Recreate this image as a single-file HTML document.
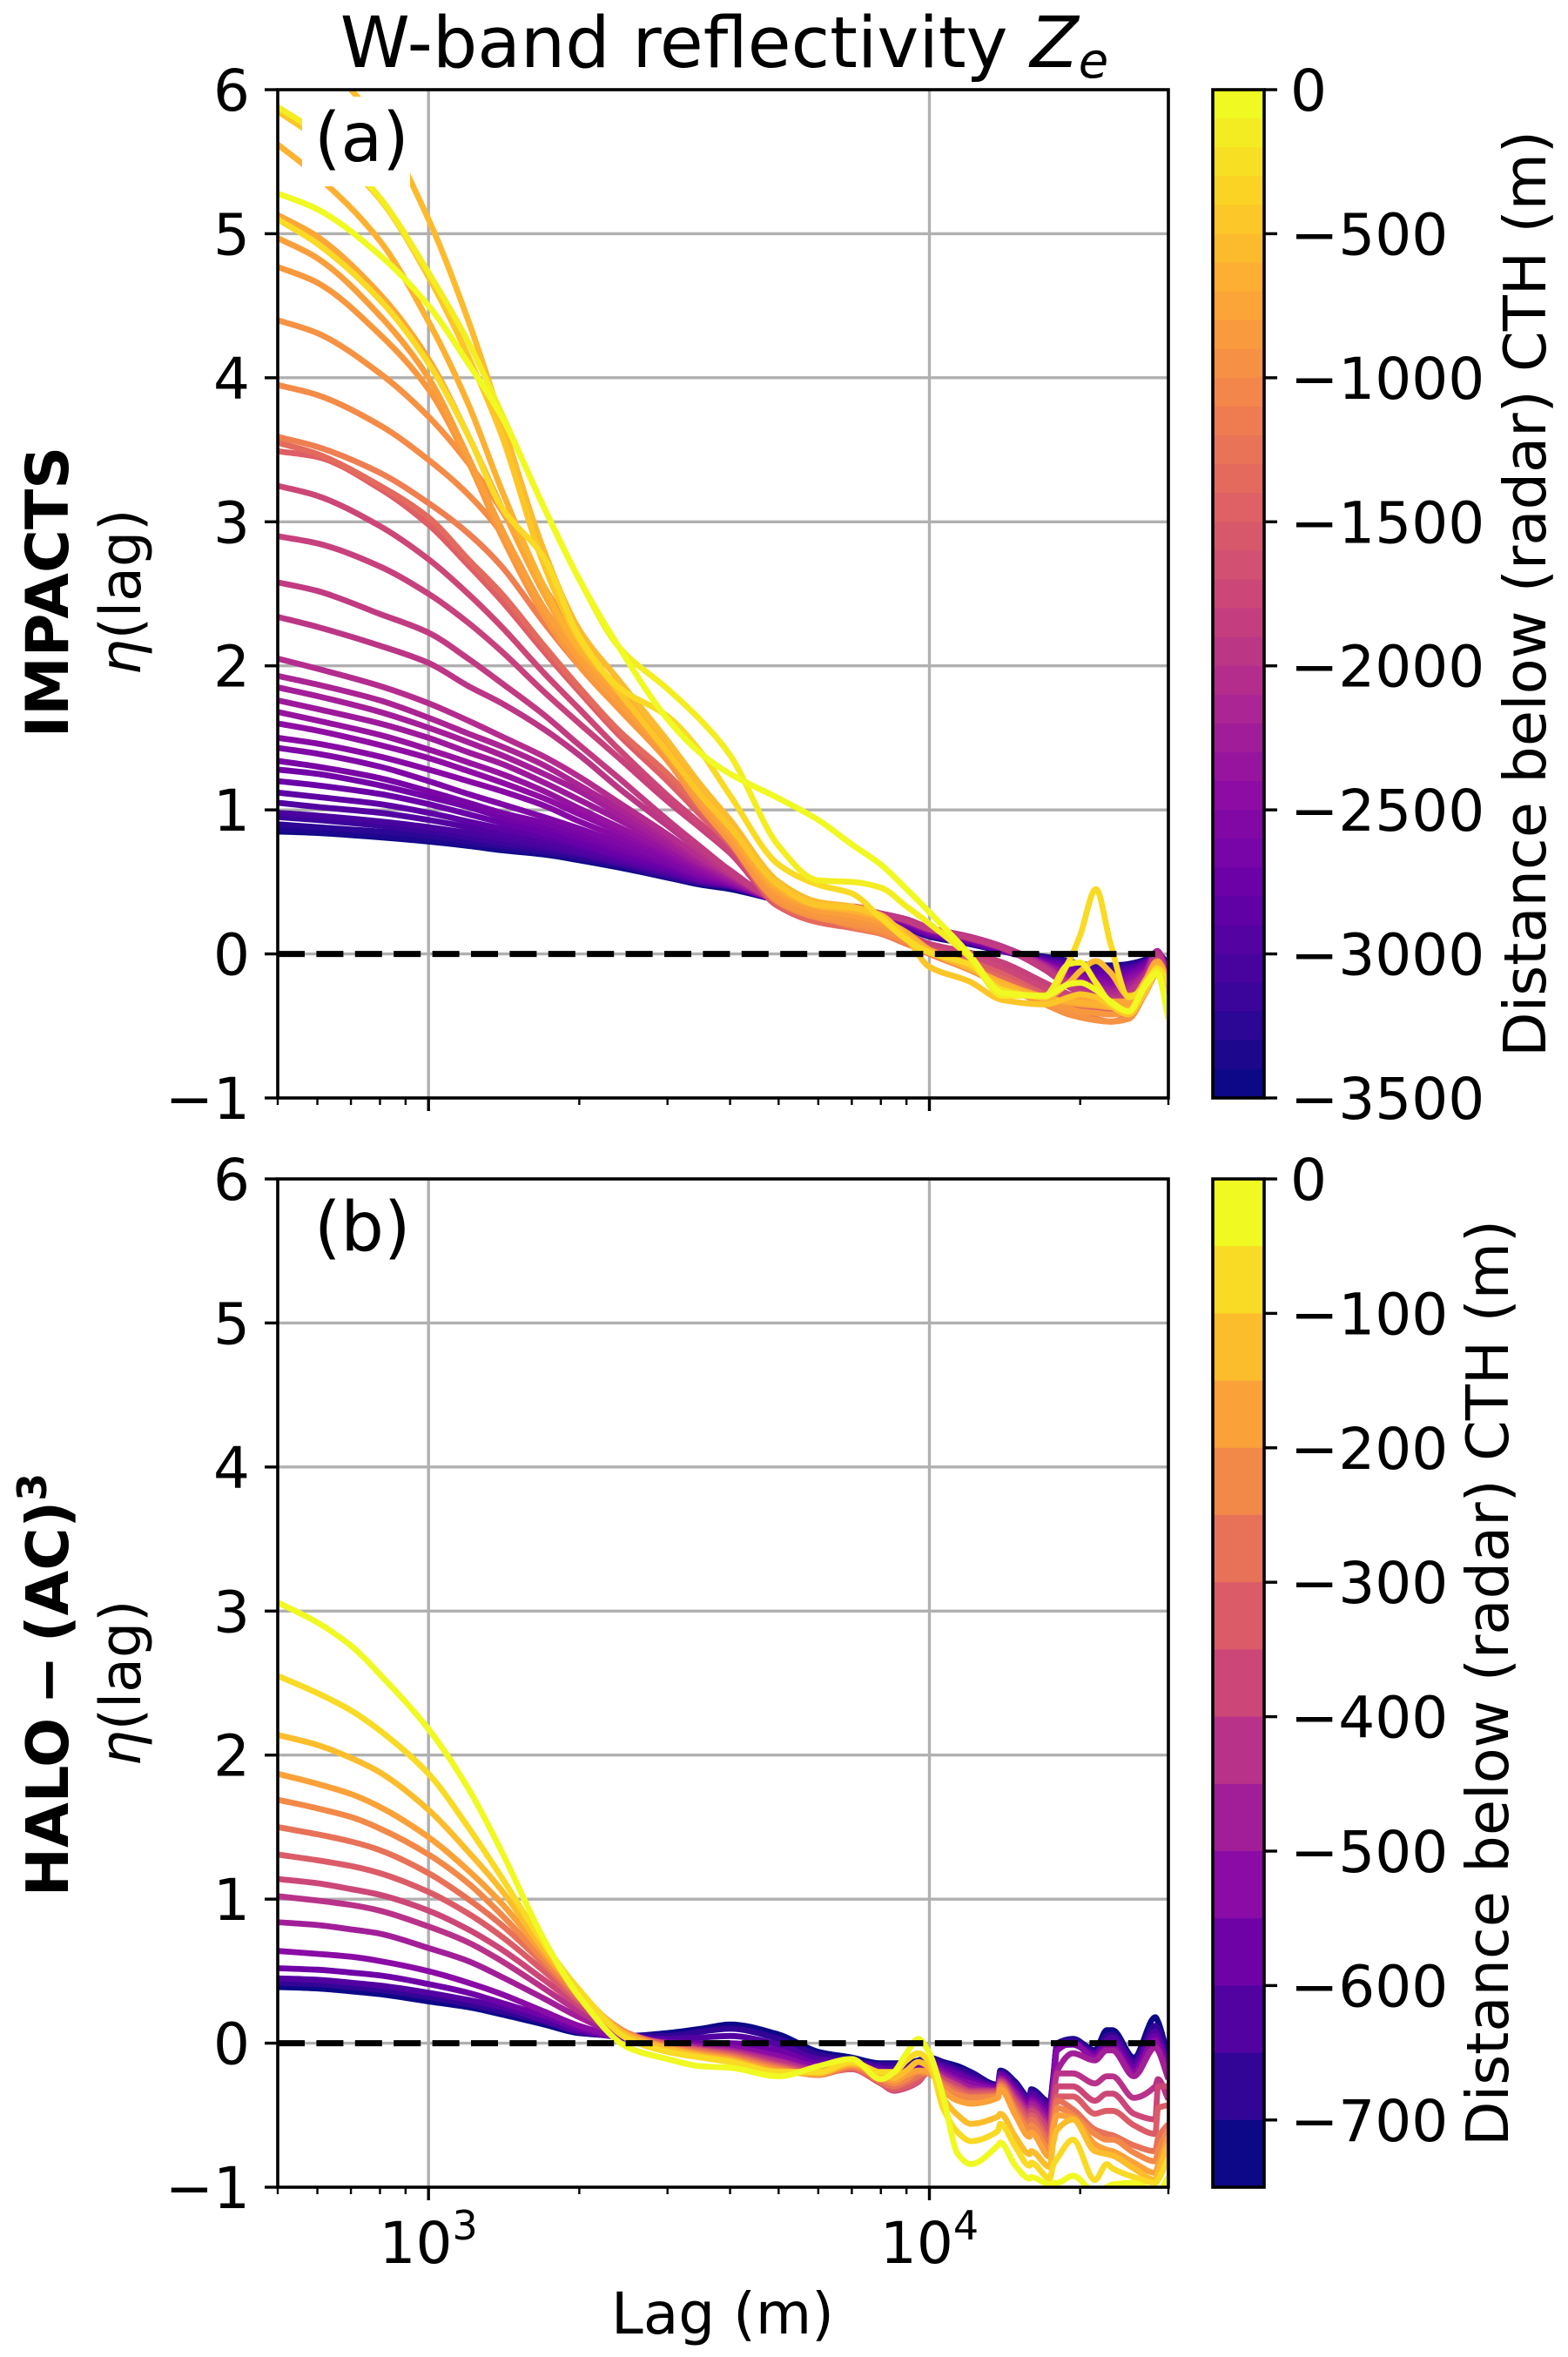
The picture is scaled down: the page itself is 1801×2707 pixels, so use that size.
<!DOCTYPE html>
<html lang="en">
<head>
<meta charset="utf-8">
<title>W-band reflectivity</title>
<style>
html,body{margin:0;padding:0;background:#fff;}
svg{display:block;}
text{font-family:"DejaVu Sans","Liberation Sans",sans-serif;fill:#000;}
</style>
</head>
<body>
<svg id="chart" xmlns="http://www.w3.org/2000/svg" width="1801" height="2707" viewBox="0 0 1801 2707">
<rect x="0" y="0" width="1801" height="2707" fill="#fff"/>
<defs>
<clipPath id="clip-a"><rect x="319" y="103" width="1023" height="1158"/></clipPath>
<clipPath id="clip-b"><rect x="319" y="1354" width="1023" height="1158"/></clipPath>
</defs>
<g id="layer-grid"></g>
<g id="layer-lines"></g>
<g id="layer-axes"></g>
<rect x="347" y="111" width="124" height="103" fill="#fff"/>
<text x="361" y="185" font-size="78">(a)</text>
<text x="361" y="1436" font-size="78">(b)</text>
<text x="832" y="77" font-size="81" text-anchor="middle">W-band reflectivity <tspan font-style="italic">Z</tspan><tspan font-size="56" font-style="italic" dy="12">e</tspan></text>
<text x="830" y="2680" font-size="66" text-anchor="middle">Lag (m)</text>
<text transform="translate(78,680) rotate(-90)" font-size="68" font-weight="bold" text-anchor="middle">IMPACTS</text>
<text transform="translate(161,680) rotate(-90)" font-size="65" text-anchor="middle"><tspan font-style="italic">η</tspan>(lag)</text>
<text transform="translate(78,1935) rotate(-90)" font-size="67" font-weight="bold" text-anchor="middle" word-spacing="-8">HALO − (AC)<tspan font-size="46" dy="-25">3</tspan></text>
<text transform="translate(161,1933) rotate(-90)" font-size="65" text-anchor="middle"><tspan font-style="italic">η</tspan>(lag)</text>
<text transform="translate(1775,682) rotate(-90)" font-size="67" text-anchor="middle">Distance below (radar) CTH (m)</text>
<text transform="translate(1732,1933) rotate(-90)" font-size="67" text-anchor="middle">Distance below (radar) CTH (m)</text>
</svg>
<script>
const yTickValues = [-1, 0, 1, 2, 3, 4, 5, 6];
const xMajorTicks = [1000, 10000];
const xMinorTicks = [500, 600, 700, 800, 900, 2000, 3000, 4000, 5000, 6000, 7000, 8000, 9000, 20000, 30000];
const xTickLabelExponents = [3, 4];
const colorbarTicksA = [0, -500, -1000, -1500, -2000, -2500, -3000, -3500];
const colorbarTicksB = [0, -100, -200, -300, -400, -500, -600, -700];
const plasmaStops = ['#0d0887', '#41049d', '#6a00a8', '#8f0da4', '#b12a90', '#cc4778', '#e16462', '#f2844b', '#fca636', '#fcce25', '#f0f921'];

const lagsA = [500,600,800,1000,1200,1400,1700,2000,2400,3000,3500,4000,5000,6000,7000,8000,9000,10000,12000,14000,17000,19000,20000,21500,23000,25000,27000,28500,30000];
const impactsDepths = [0,-100,-250,-420,-525,-600,-700,-770,-840,-910,-980,-1120,-1330,-1470,-1750,-1820,-1890,-1960,-2065,-2170,-2240,-2310,-2380,-2450,-2520,-2590,-2660,-2730,-2800,-2905,-3010,-3080,-3185,-3290,-3395,-3500];
/* one row per depth in impactsDepths */
const etaImpacts = [
[5.28,5.17,4.85,4.5,4.1,3.73,3.1,2.6,2.13,1.63,1.39,1.25,1.08,.93,.76,.62,.45,.29,0,-.27,-.29,-.21,-.2,-.25,-.33,-.4,-.22,-.14,-.43],
[5.88,5.7,5.25,4.73,4.25,3.75,3.1,2.6,2.13,1.84,1.62,1.38,.75,.51,.5,.46,.33,.21,-.02,-.29,-.29,-.07,-.06,-.2,-.34,-.4,-.2,-.12,-.45],
[5.1,4.93,4.54,4.1,3.6,3.1,2.75,2.2,1.85,1.65,1.4,1.1,.62,.48,.42,.25,.1,.01,-.07,-.25,-.3,-.05,.13,.45,.07,-.3,-.22,-.1,-.2],
[5.85,5.66,5.24,4.7,4.15,3.6,2.7,2.18,1.82,1.4,1.1,.88,.48,.34,.32,.26,.11,-.09,-.19,-.32,-.35,-.3,-.28,-.3,-.36,-.42,-.26,-.12,-.25],
[6.55,6.25,5.75,5.1,4.4,3.7,2.8,2.25,1.9,1.48,1.17,.93,.5,.36,.33,.27,.12,.02,-.09,-.22,-.3,-.2,-.12,-.05,-.13,-.29,-.25,-.12,-.22],
[5.62,5.4,4.95,4.39,3.82,3.22,2.55,2.12,1.85,1.45,1.12,.88,.46,.33,.3,.25,.14,.02,-.1,-.2,-.31,-.33,-.34,-.35,-.37,-.38,-.22,-.08,-.2],
[5.13,4.98,4.58,4.13,3.6,3.1,2.5,2.1,1.8,1.42,1.1,.85,.44,.33,.3,.24,.15,.03,-.09,-.2,-.3,-.33,-.32,-.32,-.33,-.33,-.18,-.05,-.18],
[4.97,4.83,4.43,4.0,3.45,2.95,2.4,2.05,1.75,1.38,1.06,.82,.42,.3,.27,.22,.13,.02,-.1,-.22,-.31,-.34,-.35,-.36,-.37,-.35,-.2,-.08,-.2],
[4.77,4.66,4.3,3.92,3.42,2.9,2.35,2.0,1.7,1.34,1.02,.78,.38,.27,.24,.2,.12,.02,-.1,-.22,-.33,-.38,-.4,-.41,-.42,-.4,-.24,-.1,-.22],
[4.4,4.31,4.03,3.73,3.41,3.08,2.55,2.17,1.78,1.4,1.05,.78,.36,.25,.21,.17,.1,.01,-.1,-.22,-.35,-.42,-.44,-.46,-.47,-.45,-.27,-.13,-.25],
[3.95,3.88,3.67,3.43,3.19,2.92,2.4,2.07,1.75,1.42,1.1,.85,.4,.26,.2,.15,.08,0,-.11,-.22,-.34,-.42,-.43,-.46,-.47,-.45,-.27,-.14,-.28],
[3.59,3.52,3.34,3.13,2.92,2.69,2.3,2.0,1.72,1.45,1.12,.88,.43,.27,.19,.14,.07,0,-.1,-.2,-.32,-.4,-.42,-.45,-.47,-.43,-.26,-.13,-.28],
[3.55,3.47,3.25,3.03,2.74,2.5,2.14,1.85,1.55,1.25,1.0,.78,.35,.22,.18,.14,.07,.02,-.08,-.17,-.3,-.36,-.38,-.41,-.42,-.38,-.23,-.12,-.27],
[3.49,3.45,3.23,2.98,2.7,2.45,2.1,1.82,1.52,1.2,.96,.76,.33,.22,.19,.16,.09,.03,-.05,-.14,-.28,-.34,-.36,-.38,-.4,-.36,-.22,-.1,-.26],
[3.25,3.18,2.97,2.74,2.5,2.27,1.95,1.7,1.42,1.1,.9,.72,.33,.24,.2,.18,.12,.05,-.02,-.1,-.24,-.31,-.33,-.36,-.38,-.34,-.21,-.08,-.25],
[2.9,2.85,2.69,2.5,2.3,2.1,1.82,1.6,1.36,1.06,.87,.7,.35,.27,.24,.2,.14,.07,.01,-.06,-.2,-.28,-.3,-.33,-.36,-.32,-.2,-.06,-.25],
[2.58,2.52,2.36,2.23,2.05,1.88,1.66,1.45,1.22,.93,.74,.58,.37,.32,.33,.28,.23,.17,.11,.04,-.11,-.23,-.27,-.31,-.33,-.29,-.19,-.02,-.24],
[2.34,2.27,2.14,2.02,1.86,1.74,1.56,1.38,1.15,.89,.71,.56,.37,.32,.32,.28,.24,.18,.12,.05,-.1,-.21,-.25,-.29,-.31,-.27,-.17,0,-.22],
[2.05,1.98,1.86,1.74,1.62,1.51,1.37,1.23,1.05,.83,.67,.55,.37,.32,.32,.28,.24,.18,.12,.05,-.09,-.2,-.24,-.27,-.29,-.25,-.15,.01,-.2],
[1.93,1.87,1.76,1.64,1.53,1.44,1.31,1.17,1.01,.8,.65,.54,.37,.32,.32,.28,.24,.18,.12,.05,-.08,-.19,-.22,-.25,-.27,-.23,-.14,.02,-.18],
[1.85,1.79,1.68,1.57,1.47,1.38,1.25,1.13,.97,.77,.63,.53,.37,.32,.31,.28,.24,.18,.12,.05,-.08,-.18,-.21,-.24,-.26,-.22,-.13,.02,-.17],
[1.76,1.7,1.6,1.5,1.4,1.32,1.19,1.07,.93,.75,.62,.52,.37,.31,.31,.28,.23,.17,.11,.04,-.08,-.17,-.2,-.23,-.25,-.21,-.13,.02,-.17],
[1.68,1.62,1.52,1.42,1.33,1.25,1.13,1.01,.88,.72,.6,.51,.37,.31,.3,.27,.23,.17,.11,.04,-.07,-.16,-.19,-.22,-.24,-.2,-.12,.02,-.16],
[1.6,1.55,1.45,1.36,1.27,1.19,1.08,.97,.85,.7,.58,.5,.37,.31,.3,.27,.22,.16,.11,.04,-.07,-.15,-.18,-.21,-.22,-.18,-.12,.02,-.15],
[1.5,1.46,1.37,1.28,1.2,1.13,1.03,.92,.81,.68,.57,.5,.37,.31,.29,.27,.22,.16,.1,.04,-.07,-.14,-.17,-.19,-.21,-.17,-.11,.01,-.14],
[1.43,1.39,1.3,1.2,1.11,1.04,.95,.87,.77,.65,.55,.49,.37,.31,.29,.26,.22,.16,.1,.03,-.07,-.13,-.16,-.18,-.2,-.16,-.1,.01,-.13],
[1.34,1.3,1.22,1.13,1.05,.98,.91,.84,.74,.63,.54,.49,.37,.31,.29,.26,.21,.15,.1,.03,-.06,-.12,-.15,-.17,-.18,-.15,-.09,.01,-.12],
[1.28,1.25,1.17,1.09,1.02,.95,.88,.81,.72,.62,.53,.48,.37,.31,.28,.25,.21,.15,.09,.03,-.06,-.11,-.14,-.16,-.17,-.14,-.08,.01,-.12],
[1.2,1.17,1.11,1.04,.97,.91,.84,.77,.69,.6,.52,.48,.37,.31,.28,.25,.2,.14,.09,.02,-.05,-.1,-.13,-.15,-.16,-.13,-.07,0,-.11],
[1.12,1.09,1.04,.98,.92,.87,.81,.75,.67,.58,.51,.48,.37,.31,.28,.25,.2,.14,.09,.02,-.05,-.09,-.12,-.13,-.14,-.12,-.07,0,-.11],
[1.05,1.02,.98,.93,.88,.83,.78,.72,.65,.57,.51,.47,.37,.31,.27,.24,.2,.13,.08,.02,-.04,-.08,-.11,-.12,-.13,-.11,-.06,0,-.1],
[.98,.96,.92,.88,.84,.8,.75,.7,.64,.56,.5,.47,.37,.31,.27,.24,.19,.13,.08,.02,-.04,-.07,-.1,-.11,-.12,-.1,-.06,0,-.1],
[.95,.93,.89,.85,.81,.77,.73,.69,.63,.55,.5,.47,.37,.3,.27,.23,.19,.13,.08,.02,-.03,-.06,-.09,-.1,-.11,-.09,-.05,0,-.09],
[.9,.88,.85,.82,.78,.75,.71,.67,.62,.54,.49,.47,.37,.3,.26,.23,.18,.12,.07,.02,-.03,-.06,-.08,-.09,-.1,-.08,-.05,0,-.08],
[.87,.85,.82,.79,.76,.73,.7,.66,.61,.53,.49,.46,.37,.3,.26,.22,.18,.12,.07,.02,-.02,-.05,-.07,-.08,-.09,-.07,-.04,0,-.07],
[.85,.84,.81,.78,.75,.72,.69,.65,.6,.53,.48,.45,.37,.3,.26,.22,.18,.12,.07,.02,-.02,-.05,-.07,-.08,-.08,-.07,-.04,0,-.07]
];

const lagsB = [500,600,700,800,1000,1200,1400,1700,2000,2500,3000,3500,4000,5000,6000,7000,8000,8500,9000,9500,10000,10650,11400,12100,13700,13850,14850,15850,15960,17400,17650,18000,19350,21400,22600,23200,25600,28250,28600,30000];
const haloDepths = [0,-50,-100,-150,-200,-250,-300,-350,-400,-450,-500,-550,-600,-650,-700];
const etaHalo = [
[3.06,2.92,2.76,2.56,2.18,1.77,1.33,.72,.32,-.03,-.11,-.16,-.17,-.23,-.16,-.11,-.25,-.2,-.07,.03,-.07,-.37,-.77,-.84,-.71,-.69,-.85,-.94,-.93,-.98,-.97,-.97,-.92,-1.03,-1.0,-.98,-.97,-1.03,-1.03,-.93],
[2.55,2.43,2.31,2.17,1.87,1.5,1.15,.69,.37,.03,-.06,-.1,-.13,-.2,-.2,-.13,-.2,-.2,-.12,-.07,-.13,-.45,-.62,-.68,-.61,-.56,-.72,-.85,-.83,-.94,-.85,-.8,-.67,-.95,-.84,-.87,-.93,-.97,-.95,-.8],
[2.14,2.07,1.98,1.88,1.62,1.33,1.06,.65,.36,.05,-.04,-.09,-.12,-.2,-.21,-.14,-.21,-.24,-.19,-.13,-.17,-.38,-.5,-.56,-.51,-.49,-.65,-.77,-.75,-.86,-.7,-.6,-.53,-.75,-.77,-.78,-.87,-.95,-.9,-.7],
[1.87,1.8,1.73,1.64,1.43,1.2,.97,.62,.35,.06,-.03,-.08,-.11,-.19,-.21,-.15,-.23,-.26,-.22,-.19,-.2,-.33,-.4,-.42,-.38,-.32,-.5,-.65,-.62,-.79,-.6,-.5,-.52,-.7,-.74,-.75,-.83,-.9,-.85,-.65],
[1.69,1.63,1.57,1.49,1.31,1.11,.89,.58,.33,.07,-.03,-.07,-.1,-.18,-.22,-.16,-.25,-.28,-.25,-.2,-.21,-.3,-.36,-.38,-.37,-.3,-.47,-.6,-.57,-.74,-.6,-.45,-.5,-.63,-.67,-.67,-.76,-.82,-.75,-.6],
[1.5,1.45,1.4,1.34,1.18,1.0,.82,.55,.31,.07,-.02,-.06,-.09,-.17,-.22,-.17,-.27,-.3,-.27,-.23,-.2,-.28,-.34,-.37,-.36,-.29,-.45,-.56,-.53,-.69,-.55,-.4,-.46,-.6,-.63,-.64,-.71,-.75,-.66,-.56],
[1.31,1.27,1.23,1.18,1.05,.9,.74,.5,.29,.07,-.01,-.05,-.08,-.16,-.21,-.18,-.28,-.32,-.3,-.26,-.2,-.27,-.32,-.35,-.35,-.28,-.42,-.53,-.5,-.65,-.5,-.37,-.37,-.49,-.47,-.47,-.57,-.63,-.45,-.43],
[1.14,1.11,1.07,1.03,.92,.79,.65,.44,.26,.06,-.01,-.05,-.07,-.15,-.2,-.18,-.28,-.33,-.31,-.27,-.19,-.25,-.3,-.34,-.34,-.27,-.4,-.5,-.47,-.6,-.45,-.3,-.3,-.4,-.35,-.35,-.49,-.53,-.3,-.3],
[1.02,.99,.96,.92,.81,.7,.57,.38,.22,.05,0,-.04,-.06,-.13,-.19,-.18,-.27,-.31,-.3,-.26,-.18,-.24,-.29,-.33,-.33,-.26,-.38,-.48,-.45,-.57,-.4,-.21,-.21,-.28,-.23,-.23,-.38,-.3,-.25,-.39],
[.84,.82,.79,.76,.66,.57,.46,.31,.18,.04,0,-.03,-.05,-.12,-.18,-.17,-.25,-.28,-.27,-.24,-.17,-.22,-.27,-.31,-.33,-.25,-.36,-.46,-.42,-.54,-.35,-.19,-.07,-.12,-.05,-.05,-.23,-.03,-.05,-.25],
[.64,.62,.6,.57,.5,.42,.34,.22,.12,.03,0,-.02,-.03,-.09,-.16,-.16,-.22,-.25,-.24,-.2,-.16,-.2,-.25,-.28,-.32,-.24,-.34,-.44,-.4,-.5,-.32,-.05,0,-.1,-.03,-.03,-.2,.02,-.01,-.22],
[.52,.51,.49,.47,.41,.35,.28,.19,.1,.03,.01,0,0,-.05,-.14,-.15,-.19,-.21,-.2,-.17,-.15,-.18,-.22,-.26,-.31,-.22,-.32,-.42,-.38,-.47,-.3,-.02,-.01,-.08,0,0,-.17,.05,.02,-.18],
[.45,.44,.42,.4,.35,.3,.25,.16,.08,.04,.03,.04,.05,-.01,-.11,-.13,-.17,-.18,-.17,-.14,-.13,-.16,-.2,-.24,-.3,-.21,-.3,-.4,-.35,-.44,-.27,0,0,-.07,.02,.04,-.14,.08,.05,-.15],
[.42,.41,.39,.37,.32,.27,.22,.15,.08,.05,.05,.08,.1,.03,-.08,-.12,-.15,-.15,-.15,-.13,-.11,-.14,-.18,-.21,-.3,-.2,-.28,-.39,-.33,-.42,-.26,0,.02,-.06,.05,.06,-.12,.12,.1,-.12],
[.39,.38,.36,.34,.29,.25,.2,.13,.07,.05,.07,.1,.13,.06,-.06,-.1,-.14,-.14,-.14,-.12,-.1,-.13,-.16,-.2,-.29,-.19,-.27,-.38,-.32,-.41,-.25,0,.03,-.05,.09,.09,-.1,.18,.15,-.1]
];

const NS = 'http://www.w3.org/2000/svg';
const plotLeft = 319, plotRight = 1342, plotHeight = 1158;
const panelTops = { a: 103, b: 1354 };
const gridLayer = document.getElementById('layer-grid');
const lineLayer = document.getElementById('layer-lines');
const axesLayer = document.getElementById('layer-axes');

function xScale(lag) {
  const lo = Math.log10(500), hi = Math.log10(30000);
  return plotLeft + (Math.log10(lag) - lo) / (hi - lo) * (plotRight - plotLeft);
}
function yScale(value, panel) {
  return panelTops[panel] + (6 - value) / 7 * plotHeight;
}
function plasma(t) {
  const p = Math.max(0, Math.min(1, t)) * (plasmaStops.length - 1);
  const i = Math.min(Math.floor(p), plasmaStops.length - 2);
  const f = p - i;
  const a = parseInt(plasmaStops[i].slice(1), 16), b = parseInt(plasmaStops[i + 1].slice(1), 16);
  const mix = function (s) {
    return Math.round(((a >> s) & 255) * (1 - f) + ((b >> s) & 255) * f);
  };
  return 'rgb(' + mix(16) + ',' + mix(8) + ',' + mix(0) + ')';
}
function svgEl(tag, parent, attrs) {
  const el = document.createElementNS(NS, tag);
  Object.keys(attrs).forEach(function (k) { el.setAttribute(k, attrs[k]); });
  parent.appendChild(el);
  return el;
}
/* monotone cubic path through the points, no overshoot at the jumps */
function curvePath(xs, ys) {
  const n = xs.length, dx = [], m = [], t = [];
  for (let i = 0; i < n - 1; i++) {
    dx[i] = xs[i + 1] - xs[i];
    m[i] = (ys[i + 1] - ys[i]) / dx[i];
  }
  t[0] = m[0];
  t[n - 1] = m[n - 2];
  for (let i = 1; i < n - 1; i++) {
    t[i] = m[i - 1] * m[i] <= 0 ? 0 : 2 * m[i - 1] * m[i] / (m[i - 1] + m[i]);
  }
  let d = 'M' + xs[0].toFixed(1) + ' ' + ys[0].toFixed(1);
  for (let i = 0; i < n - 1; i++) {
    const h = dx[i] / 3;
    d += 'C' + (xs[i] + h).toFixed(1) + ' ' + (ys[i] + t[i] * h).toFixed(1) + ' ' +
         (xs[i + 1] - h).toFixed(1) + ' ' + (ys[i + 1] - t[i + 1] * h).toFixed(1) + ' ' +
         xs[i + 1].toFixed(1) + ' ' + ys[i + 1].toFixed(1);
  }
  return d;
}
function drawCurves(lags, series, depths, deepest, panel) {
  const group = svgEl('g', lineLayer, { 'clip-path': 'url(#clip-' + panel + ')' });
  
  
  for (let i = series.length - 1; i >= 0; i--) {
    const xs = lags.map(function (l) { return xScale(l); });
    const ys = series[i].map(function (v) { return yScale(v, panel); });
    const path = svgEl('path', group, {
      d: curvePath(xs, ys), fill: 'none', stroke: plasma(1 - depths[i] / deepest),
      'stroke-width': 6.8, 'stroke-linejoin': 'round'
    });
    
    
  }
  const zero = svgEl('line', group, {
    x1: plotLeft, x2: plotRight, y1: yScale(0, panel), y2: yScale(0, panel),
    stroke: '#000', 'stroke-width': 7, 'stroke-dasharray': '31 13.4'
  });
  
  
}
function drawAxes(panel, showLabels) {
  const top = panelTops[panel], bottom = top + plotHeight;
  xMajorTicks.forEach(function (lag) {
    const grid = svgEl('line', gridLayer, { x1: xScale(lag), x2: xScale(lag), y1: top, y2: bottom, stroke: '#b0b0b0', 'stroke-width': 3.4 });
    
    
    const tick = svgEl('line', axesLayer, { x1: xScale(lag), x2: xScale(lag), y1: bottom, y2: bottom + 15, stroke: '#000', 'stroke-width': 3.4 });
    
    
  });
  xMinorTicks.forEach(function (lag) {
    const tick = svgEl('line', axesLayer, { x1: xScale(lag), x2: xScale(lag), y1: bottom, y2: bottom + 8, stroke: '#000', 'stroke-width': 2.4 });
    
    
  });
  yTickValues.forEach(function (v) {
    const y = yScale(v, panel);
    if (v > -1 && v < 6) {
      const grid = svgEl('line', gridLayer, { x1: plotLeft, x2: plotRight, y1: y, y2: y, stroke: '#b0b0b0', 'stroke-width': 3.4 });
      
      
    }
    const tick = svgEl('line', axesLayer, { x1: plotLeft - 15, x2: plotLeft, y1: y, y2: y, stroke: '#000', 'stroke-width': 3.4 });
    
    
    const label = svgEl('text', axesLayer, { x: 287, y: y + 24, 'font-size': 66, 'text-anchor': 'end' });
    label.textContent = String(v).replace('-', '\u2212');
    
    
  });
  const frame = svgEl('rect', axesLayer, { x: plotLeft, y: top, width: plotRight - plotLeft, height: plotHeight, fill: 'none', stroke: '#000', 'stroke-width': 3.6 });
  
  
  if (showLabels) {
    xMajorTicks.forEach(function (lag, i) {
      const label = svgEl('text', axesLayer, { x: xScale(lag), y: bottom + 87, 'font-size': 66, 'text-anchor': 'middle' });
      
      
      const base = svgEl('tspan', label, {});
      base.textContent = '10';
      const exp = svgEl('tspan', label, { 'font-size': 46, dy: -27 });
      exp.textContent = String(xTickLabelExponents[i]);
    });
  }
}
function drawColorbar(panel, minValue, bandSize, ticks) {
  const top = panelTops[panel];
  const barLeft = 1393, barWidth = 59;
  const bands = Math.round(-minValue / bandSize);
  const cy = function (v) { return top + v / minValue * plotHeight; };
  for (let i = 0; i < bands; i++) {
    const band = svgEl('rect', axesLayer, {
      x: barLeft, y: cy(-i * bandSize), width: barWidth,
      height: cy(-(i + 1) * bandSize) - cy(-i * bandSize) + 0.5,
      fill: plasma(1 - i / (bands - 1))
    });
    
    
  }
  const outline = svgEl('rect', axesLayer, { x: barLeft, y: top, width: barWidth, height: plotHeight, fill: 'none', stroke: '#000', 'stroke-width': 3.6 });
  
  
  ticks.forEach(function (v) {
    const y = cy(v);
    const tick = svgEl('line', axesLayer, { x1: barLeft + barWidth, x2: barLeft + barWidth + 15, y1: y, y2: y, stroke: '#000', 'stroke-width': 3.4 });
    
    
    const label = svgEl('text', axesLayer, { x: 1482, y: y + 24, 'font-size': 66 });
    label.textContent = String(v).replace('-', '\u2212');
    
    
  });
}
drawCurves(lagsA, etaImpacts, impactsDepths, -3500, 'a');
drawCurves(lagsB, etaHalo, haloDepths, -700, 'b');
drawAxes('a', false);
drawAxes('b', true);
drawColorbar('a', -3500, 100, colorbarTicksA);
drawColorbar('b', -750, 50, colorbarTicksB);
</script>
</body>
</html>
